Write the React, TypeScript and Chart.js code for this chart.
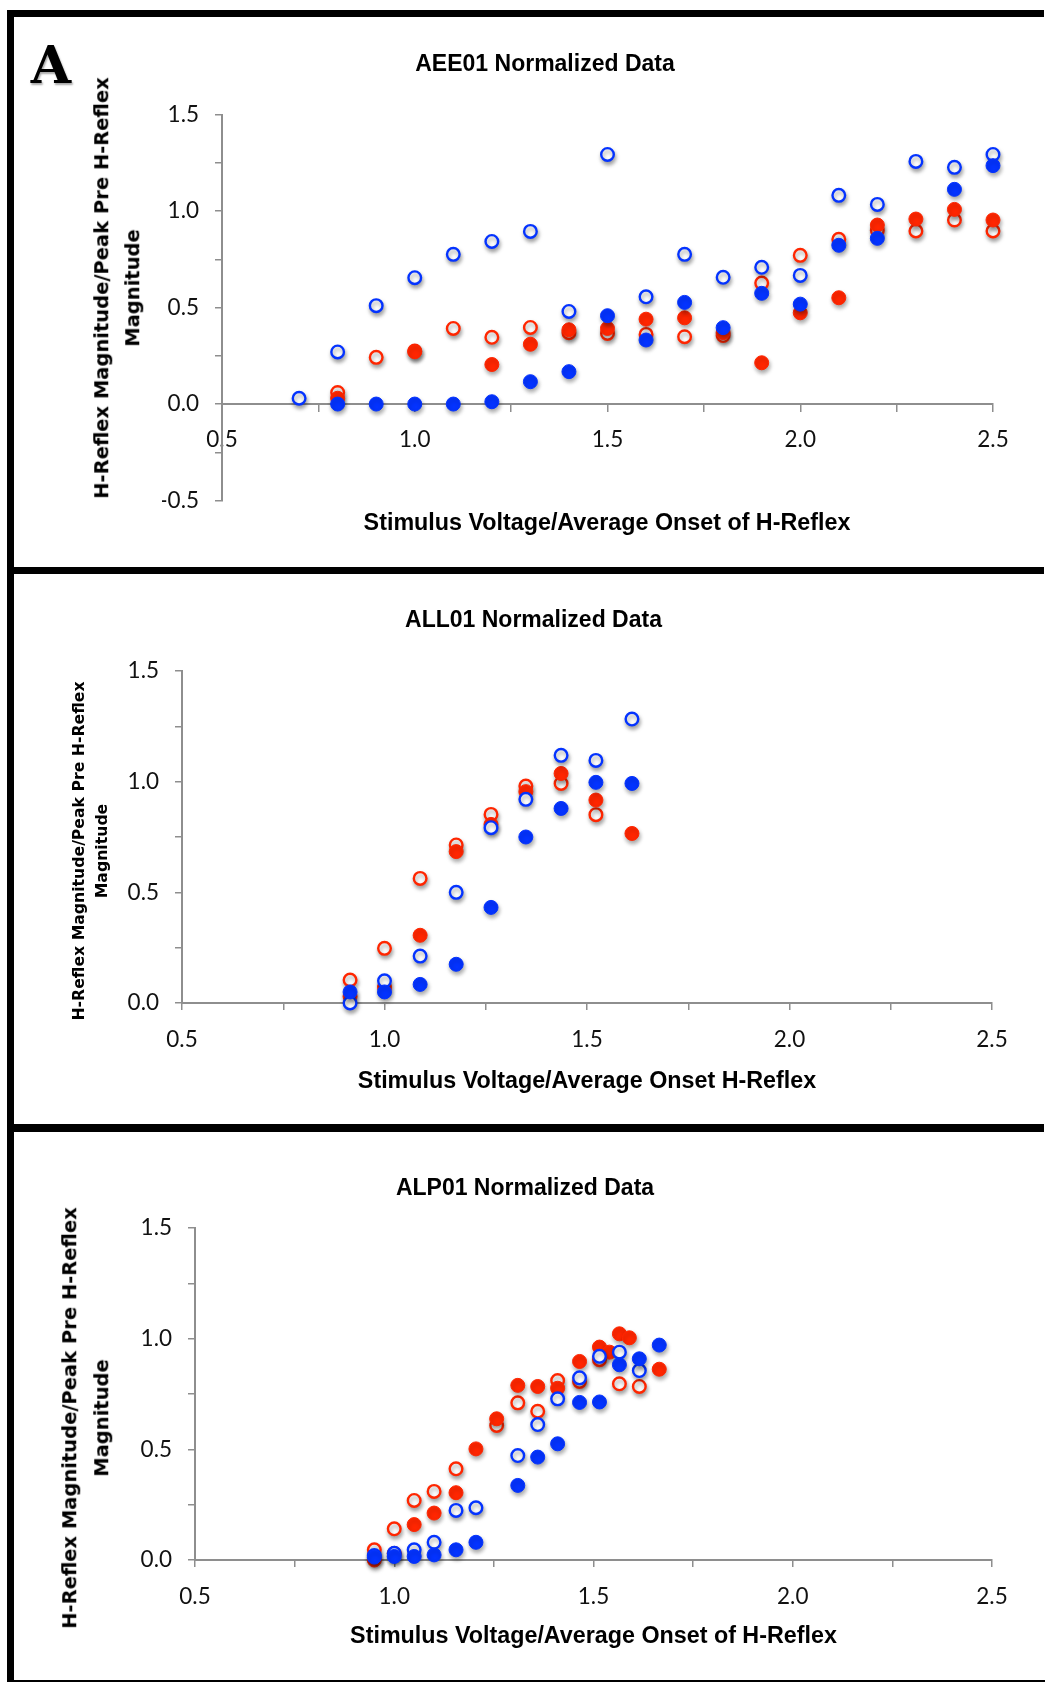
import React, { useEffect, useRef } from 'react';
import { Chart, registerables } from 'chart.js';

Chart.register(...registerables);

const BLUE = '#0433ff';
const RED = '#ff2600';
const AXIS_GRAY = '#8e8e8e';
const TICK_COLOR = '#111111';

// ---- AEE01 ----
const aeeOpenBlueX = [0.7, 0.8, 0.9, 1.0, 1.1, 1.2, 1.3, 1.4, 1.5, 1.6, 1.7, 1.8, 1.9, 2.0, 2.1, 2.2, 2.3, 2.4, 2.5];
const aeeOpenBlueY = [0.03, 0.27, 0.51, 0.655, 0.776, 0.843, 0.895, 0.48, 1.294, 0.556, 0.776, 0.657, 0.709, 0.667, 1.082, 1.035, 1.258, 1.227, 1.294];
const aeeFilledBlueX = [0.8, 0.9, 1.0, 1.1, 1.2, 1.3, 1.4, 1.5, 1.6, 1.7, 1.8, 1.9, 2.0, 2.1, 2.2, 2.4, 2.5];
const aeeFilledBlueY = [0.0, 0.0, 0.0, 0.0, 0.012, 0.116, 0.168, 0.458, 0.332, 0.527, 0.396, 0.574, 0.518, 0.823, 0.859, 1.113, 1.236];
const aeeOpenRedX = [0.8, 0.9, 1.0, 1.1, 1.2, 1.3, 1.4, 1.5, 1.6, 1.7, 1.8, 1.9, 2.0, 2.1, 2.2, 2.3, 2.4, 2.5];
const aeeOpenRedY = [0.06, 0.242, 0.275, 0.392, 0.346, 0.397, 0.37, 0.366, 0.361, 0.349, 0.355, 0.627, 0.771, 0.854, 0.9, 0.897, 0.954, 0.897];
const aeeFilledRedX = [0.8, 1.0, 1.2, 1.3, 1.4, 1.5, 1.6, 1.7, 1.8, 1.9, 2.0, 2.1, 2.2, 2.3, 2.4, 2.5];
const aeeFilledRedY = [0.03, 0.271, 0.205, 0.31, 0.385, 0.392, 0.44, 0.447, 0.37, 0.214, 0.473, 0.551, 0.928, 0.959, 1.009, 0.954];

// ---- ALL01 ----
const allX = [0.915, 1.0, 1.088, 1.177, 1.263, 1.349, 1.436, 1.522, 1.611];
const allOpenBlueY = [0.0, 0.1, 0.212, 0.5, 0.792, 0.92, 1.119, 1.096, 1.283];
const allFilledBlueY = [0.05, 0.05, 0.084, 0.175, 0.432, 0.75, 0.879, 0.997, 0.992];
const allOpenRedX = [0.915, 1.0, 1.088, 1.177, 1.263, 1.349, 1.436, 1.522];
const allOpenRedY = [0.104, 0.247, 0.563, 0.714, 0.852, 0.98, 0.992, 0.851];
const allFilledRedY = [0.03, 0.071, 0.306, 0.684, 0.807, 0.955, 1.037, 0.917, 0.766];

// ---- ALP01 ----
const alpOpenBlueX = [0.95, 1.0, 1.05, 1.1, 1.155, 1.205, 1.31, 1.36, 1.41, 1.465, 1.515, 1.565, 1.615];
const alpOpenBlueY = [0.02, 0.03, 0.046, 0.08, 0.224, 0.236, 0.472, 0.612, 0.728, 0.823, 0.92, 0.939, 0.856];
const alpFilledBlueX = [0.95, 1.0, 1.05, 1.1, 1.155, 1.205, 1.31, 1.36, 1.41, 1.465, 1.515, 1.565, 1.615, 1.665];
const alpFilledBlueY = [0.013, 0.016, 0.016, 0.023, 0.046, 0.08, 0.337, 0.465, 0.525, 0.712, 0.714, 0.882, 0.909, 0.971];
const alpOpenRedX = [0.95, 1.0, 1.05, 1.1, 1.155, 1.257, 1.31, 1.36, 1.41, 1.465, 1.515, 1.565, 1.615];
const alpOpenRedY = [0.046, 0.141, 0.269, 0.31, 0.412, 0.608, 0.71, 0.672, 0.811, 0.807, 0.905, 0.796, 0.784];
const alpFilledRedX = [0.95, 1.0, 1.05, 1.1, 1.155, 1.205, 1.257, 1.31, 1.36, 1.41, 1.465, 1.515, 1.54, 1.565, 1.59, 1.665];
const alpFilledRedY = [0.0, 0.03, 0.16, 0.212, 0.304, 0.502, 0.638, 0.789, 0.784, 0.776, 0.897, 0.962, 0.939, 1.022, 1.004, 0.862];

const xTickValues = [0.5, 1.0, 1.5, 2.0, 2.5];

type Pt = { x: number; y: number };
const pts = (xs: number[], ys: number[]): Pt[] => xs.map((x, i) => ({ x, y: ys[i] }));

const halfLabel = (v: number | string) => {
  const n = Number(v);
  return Math.abs(n * 2 - Math.round(n * 2)) < 1e-6 ? n.toFixed(1) : '';
};

// soft drop shadow under every marker
const markerShadow = {
  id: 'markerShadow',
  beforeDatasetsDraw(chart: any) {
    const c = chart.ctx;
    c.save();
    c.shadowColor = 'rgba(0,0,0,0.35)';
    c.shadowBlur = 4;
    c.shadowOffsetX = 1;
    c.shadowOffsetY = 3;
  },
  afterDatasetsDraw(chart: any) {
    chart.ctx.restore();
  },
};

const openSet = (data: Pt[], color: string, order: number) => ({
  data,
  order,
  clip: false as const,
  pointRadius: 6.3,
  pointBorderWidth: 2.4,
  pointBackgroundColor: '#ffffff',
  pointBorderColor: color,
  pointHoverRadius: 6.3,
});

const filledSet = (data: Pt[], color: string, order: number) => ({
  data,
  order,
  clip: false as const,
  pointRadius: 7,
  pointBorderWidth: 1,
  pointBackgroundColor: color,
  pointBorderColor: color,
  pointHoverRadius: 7,
});

type PanelProps = {
  top: number;
  height: number;
  padding: { left: number; right: number; top: number; bottom: number };
  yMin: number;
  xAtZero: boolean;
  xTickPad: number;
  openBlue: Pt[];
  filledBlue: Pt[];
  openRed: Pt[];
  filledRed: Pt[];
};

const TICK_FONT = { family: 'Lato, "Open Sans", sans-serif', size: 22.5, weight: 400 as any };

function ScatterPanel(p: PanelProps) {
  const ref = useRef<HTMLCanvasElement>(null);
  useEffect(() => {
    if (!ref.current) return;
    const chart = new Chart(ref.current, {
      type: 'scatter',
      data: {
        datasets: [
          openSet(p.openRed, RED, 3),
          filledSet(p.filledRed, RED, 2),
          openSet(p.openBlue, BLUE, 1),
          filledSet(p.filledBlue, BLUE, 0),
        ] as any,
      },
      options: {
        animation: false,
        responsive: false,
        maintainAspectRatio: false,
        events: [],
        layout: { padding: p.padding },
        plugins: {
          legend: { display: false },
          tooltip: { enabled: false },
          title: { display: false },
        },
        scales: {
          x: {
            type: 'linear',
            min: xTickValues[0],
            max: xTickValues[xTickValues.length - 1],
            position: (p.xAtZero ? { y: 0 } : 'bottom') as any,
            afterFit: (s: any) => {
              s.height = 60;
            },
            ticks: {
              stepSize: 0.25,
              autoSkip: false,
              maxRotation: 0,
              minRotation: 0,
              padding: p.xTickPad,
              color: TICK_COLOR,
              font: TICK_FONT,
              callback: halfLabel,
            },
            grid: { drawOnChartArea: false, tickLength: 7, color: AXIS_GRAY, lineWidth: 1.5 },
            border: { color: AXIS_GRAY, width: 2 },
          },
          y: {
            type: 'linear',
            min: p.yMin,
            max: 1.5,
            position: 'left',
            afterFit: (s: any) => {
              s.width = 60;
            },
            ticks: {
              stepSize: 0.25,
              autoSkip: false,
              padding: 16,
              color: TICK_COLOR,
              font: TICK_FONT,
              callback: halfLabel,
            },
            grid: { drawOnChartArea: false, tickLength: 7, color: AXIS_GRAY, lineWidth: 1.5 },
            border: { color: AXIS_GRAY, width: 2 },
          },
        },
      },
      plugins: [markerShadow],
    });
    return () => chart.destroy();
  }, []);
  return (
    <canvas
      ref={ref}
      width={1031}
      height={p.height}
      style={{ position: 'absolute', left: 14, top: p.top, width: 1031, height: p.height }}
    />
  );
}

const TITLE_FONT = '"Liberation Sans", Arial, sans-serif';
const YTITLE_FONT = '"DejaVu Sans", Verdana, sans-serif';

function Label(props: { x: number; y: number; size: number; text: string; family: string; rotate?: boolean }) {
  return (
    <div
      style={{
        position: 'absolute',
        left: props.x,
        top: props.y,
        transform: `translate(-50%, -50%)${props.rotate ? ' rotate(-90deg)' : ''}`,
        fontFamily: props.family,
        fontWeight: 'bold',
        fontSize: props.size,
        lineHeight: 1,
        whiteSpace: 'nowrap',
        color: '#000',
      }}
    >
      {props.text}
    </div>
  );
}

const bar = (left: number, top: number, width: number, height: number) => (
  <div style={{ position: 'absolute', left, top, width, height, background: '#000' }} />
);

export default function App() {
  return (
    <div
      style={{
        position: 'absolute',
        left: 0,
        top: 0,
        width: 1045,
        height: 1682,
        background: '#fff',
        overflow: 'hidden',
      }}
    >
      <ScatterPanel
        top={17}
        height={550}
        padding={{ left: 148, right: 52, top: 97.7, bottom: 66.5 }}
        yMin={-0.5}
        xAtZero={true}
        xTickPad={15}
        openBlue={pts(aeeOpenBlueX, aeeOpenBlueY)}
        filledBlue={pts(aeeFilledBlueX, aeeFilledBlueY)}
        openRed={pts(aeeOpenRedX, aeeOpenRedY)}
        filledRed={pts(aeeFilledRedX, aeeFilledRedY)}
      />
      <ScatterPanel
        top={574}
        height={550}
        padding={{ left: 108, right: 53, top: 97, bottom: 61 }}
        yMin={0}
        xAtZero={false}
        xTickPad={16}
        openBlue={pts(allX, allOpenBlueY)}
        filledBlue={pts(allX, allFilledBlueY)}
        openRed={pts(allOpenRedX, allOpenRedY)}
        filledRed={pts(allX, allFilledRedY)}
      />
      <ScatterPanel
        top={1132}
        height={548}
        padding={{ left: 121, right: 53, top: 96, bottom: 60 }}
        yMin={0}
        xAtZero={false}
        xTickPad={16}
        openBlue={pts(alpOpenBlueX, alpOpenBlueY)}
        filledBlue={pts(alpFilledBlueX, alpFilledBlueY)}
        openRed={pts(alpOpenRedX, alpOpenRedY)}
        filledRed={pts(alpFilledRedX, alpFilledRedY)}
      />

      {/* panel frame */}
      {bar(7, 10, 1037, 7)}
      {bar(7, 10, 7, 1672)}
      {bar(7, 567, 1037, 7)}
      {bar(7, 1124, 1037, 8)}
      {bar(7, 1680, 1038, 2)}

      <div
        style={{
          position: 'absolute',
          left: 51,
          top: 65,
          transform: 'translate(-50%, -50%)',
          fontFamily: '"DejaVu Serif", serif',
          fontWeight: 'bold',
          fontSize: 52,
          lineHeight: 1,
          color: '#000',
          textShadow: '1px 2px 2px rgba(0,0,0,0.35)',
        }}
      >
        A
      </div>

      <Label x={545} y={63} size={23} text="AEE01 Normalized Data" family={TITLE_FONT} />
      <Label x={607} y={523} size={23.3} text="Stimulus Voltage/Average Onset of H-Reflex" family={TITLE_FONT} />
      <Label x={102} y={287.5} size={19.5} text="H-Reflex Magnitude/Peak Pre H-Reflex" family={YTITLE_FONT} rotate />
      <Label x={133} y={288} size={19.5} text="Magnitude" family={YTITLE_FONT} rotate />

      <Label x={533.5} y={619} size={23} text="ALL01 Normalized Data" family={TITLE_FONT} />
      <Label x={587} y={1081} size={23.3} text="Stimulus Voltage/Average Onset H-Reflex" family={TITLE_FONT} />
      <Label x={79} y={851} size={15.7} text="H-Reflex Magnitude/Peak Pre H-Reflex" family={YTITLE_FONT} rotate />
      <Label x={102} y={851} size={15.7} text="Magnitude" family={YTITLE_FONT} rotate />

      <Label x={525} y={1187} size={23} text="ALP01 Normalized Data" family={TITLE_FONT} />
      <Label x={593.5} y={1636} size={23.3} text="Stimulus Voltage/Average Onset of H-Reflex" family={TITLE_FONT} />
      <Label x={70} y={1417.5} size={19.5} text="H-Reflex Magnitude/Peak Pre H-Reflex" family={YTITLE_FONT} rotate />
      <Label x={102} y={1417.5} size={19.5} text="Magnitude" family={YTITLE_FONT} rotate />
    </div>
  );
}
